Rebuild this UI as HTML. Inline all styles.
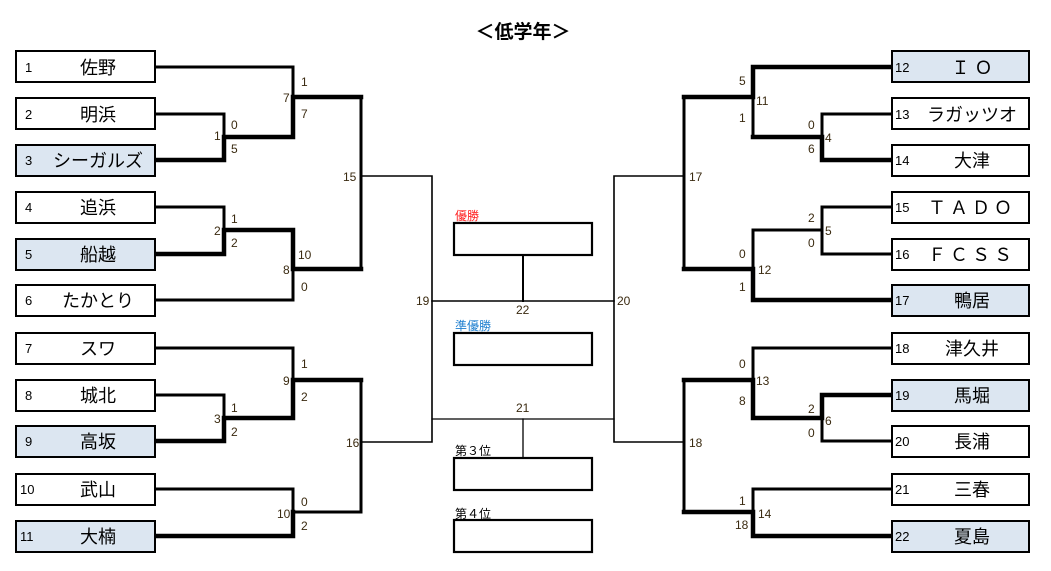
<!DOCTYPE html>
<html><head><meta charset="utf-8"><style>
html,body{margin:0;padding:0;background:#fff;}
svg{display:block;}
text{font-family:"Liberation Sans","Noto Sans CJK JP",sans-serif;}
.n{font-size:13px;fill:#000;}
.nm{font-size:18px;fill:#000;text-anchor:middle;}
.s{font-size:12px;fill:#3a2a10;}
</style></head><body>
<svg width="1051" height="571" viewBox="0 0 1051 571" xmlns="http://www.w3.org/2000/svg">
<text x="523" y="38" text-anchor="middle" style="font-size:19px;font-weight:bold">＜低学年＞</text>

<g stroke="#000" fill="none" stroke-linecap="square">
<path d="M155 67H293V137" stroke-width="3"/>
<path d="M155 114H224V137" stroke-width="3"/>
<path d="M155 160H224V137H293V97H361" stroke-width="4.5"/>
<path d="M155 207H224V230" stroke-width="3"/>
<path d="M155 254H224V230H293V269H361" stroke-width="4.5"/>
<path d="M155 300H293V269" stroke-width="3"/>
<path d="M361 97V269" stroke-width="3"/>
<path d="M155 348H293V380" stroke-width="3"/>
<path d="M155 395H224V418" stroke-width="3"/>
<path d="M155 441H224V418H293V380H361" stroke-width="4.5"/>
<path d="M155 489H293V512" stroke-width="3"/>
<path d="M155 536H293V512" stroke-width="4.5"/>
<path d="M293 512H361V380" stroke-width="3"/>
<path d="M892 67H753V97H684" stroke-width="4.5"/>
<path d="M753 97V137" stroke-width="3"/>
<path d="M892 114H822V137" stroke-width="3"/>
<path d="M892 160H822V137H753" stroke-width="4.5"/>
<path d="M892 207H822V230H753V269" stroke-width="3"/>
<path d="M892 254H822V230" stroke-width="3"/>
<path d="M892 300H753V269H684" stroke-width="4.5"/>
<path d="M684 97V269" stroke-width="3"/>
<path d="M892 348H753V380" stroke-width="3"/>
<path d="M892 395H822V418H753V380H684" stroke-width="4.5"/>
<path d="M892 441H822V418" stroke-width="3"/>
<path d="M892 489H753V512" stroke-width="3"/>
<path d="M892 536H753V512H684" stroke-width="4.5"/>
<path d="M684 380V512" stroke-width="3"/>
<path d="M361 176H432V442H361" stroke-width="1.6"/>
<path d="M684 176H614V442H684" stroke-width="1.6"/>
<path d="M432 301H614" stroke-width="1.6"/>
<path d="M432 419H614" stroke-width="1.3"/>
<path d="M523 255V301" stroke-width="2"/>
<path d="M523 419V458" stroke-width="1.3"/>
<rect x="454" y="223" width="138" height="32" stroke-width="2.2" fill="#fff"/>
<rect x="454" y="333" width="138" height="32" stroke-width="2.2" fill="#fff"/>
<rect x="454" y="458" width="138" height="32" stroke-width="2.2" fill="#fff"/>
<rect x="454" y="520" width="138" height="32" stroke-width="2.2" fill="#fff"/>
</g>

<text x="455" y="220" style="font-size:12px;fill:#ff2020">優勝</text>
<text x="455" y="330" style="font-size:12px;fill:#2080d0">準優勝</text>
<text x="455" y="455" style="font-size:12px;fill:#000">第３位</text>
<text x="455" y="518" style="font-size:12px;fill:#000">第４位</text>

<g stroke="#000" stroke-width="2">
<rect x="16" y="51" width="139" height="31" fill="#fff"/>
<rect x="16" y="98" width="139" height="31" fill="#fff"/>
<rect x="16" y="145" width="139" height="31" fill="#dce6f1"/>
<rect x="16" y="192" width="139" height="31" fill="#fff"/>
<rect x="16" y="239" width="139" height="31" fill="#dce6f1"/>
<rect x="16" y="285" width="139" height="31" fill="#fff"/>
<rect x="16" y="333" width="139" height="31" fill="#fff"/>
<rect x="16" y="380" width="139" height="31" fill="#fff"/>
<rect x="16" y="426" width="139" height="31" fill="#dce6f1"/>
<rect x="16" y="474" width="139" height="31" fill="#fff"/>
<rect x="16" y="521" width="139" height="31" fill="#dce6f1"/>
<rect x="892" y="51" width="137" height="31" fill="#dce6f1"/>
<rect x="892" y="98" width="137" height="31" fill="#fff"/>
<rect x="892" y="145" width="137" height="31" fill="#fff"/>
<rect x="892" y="192" width="137" height="31" fill="#fff"/>
<rect x="892" y="239" width="137" height="31" fill="#fff"/>
<rect x="892" y="285" width="137" height="31" fill="#dce6f1"/>
<rect x="892" y="333" width="137" height="31" fill="#fff"/>
<rect x="892" y="380" width="137" height="31" fill="#dce6f1"/>
<rect x="892" y="426" width="137" height="31" fill="#fff"/>
<rect x="892" y="474" width="137" height="31" fill="#fff"/>
<rect x="892" y="521" width="137" height="31" fill="#dce6f1"/>
</g>

<g class="n">
<text x="25" y="72">1</text><text x="25" y="119">2</text><text x="25" y="165">3</text>
<text x="25" y="212">4</text><text x="25" y="259">5</text><text x="25" y="305">6</text>
<text x="25" y="353">7</text><text x="25" y="400">8</text><text x="25" y="446">9</text>
<text x="20" y="494">10</text><text x="20" y="541">11</text>
<text x="895" y="72">12</text><text x="895" y="119">13</text><text x="895" y="165">14</text>
<text x="895" y="212">15</text><text x="895" y="259">16</text><text x="895" y="305">17</text>
<text x="895" y="353">18</text><text x="895" y="400">19</text><text x="895" y="446">20</text>
<text x="895" y="494">21</text><text x="895" y="541">22</text>
</g>
<g class="nm">
<text x="98" y="74">佐野</text><text x="98" y="121">明浜</text><text x="98" y="167">シーガルズ</text>
<text x="98" y="214">追浜</text><text x="98" y="261">船越</text><text x="98" y="307">たかとり</text>
<text x="98" y="355">スワ</text><text x="98" y="402">城北</text><text x="98" y="448">高坂</text>
<text x="98" y="496">武山</text><text x="98" y="543">大楠</text>
<text x="972" y="74">Ｉ Ｏ</text><text x="972" y="121">ラガッツオ</text><text x="972" y="167">大津</text>
<text x="972" y="214" style="letter-spacing:4px">ＴＡＤＯ</text><text x="972" y="261" style="letter-spacing:4px">ＦＣＳＳ</text><text x="972" y="307">鴨居</text>
<text x="972" y="355">津久井</text><text x="972" y="402">馬堀</text><text x="972" y="448">長浦</text>
<text x="972" y="496">三春</text><text x="972" y="543">夏島</text>
</g>

<g class="s">
<text x="301" y="86">1</text><text x="283" y="102">7</text><text x="301" y="118">7</text>
<text x="231" y="129">0</text><text x="214" y="140">1</text><text x="231" y="153">5</text>
<text x="231" y="223">1</text><text x="214" y="235">2</text><text x="231" y="247">2</text>
<text x="298" y="259">10</text><text x="283" y="274">8</text><text x="301" y="291">0</text>
<text x="343" y="181">15</text>
<text x="301" y="368">1</text><text x="283" y="385">9</text><text x="301" y="401">2</text>
<text x="231" y="412">1</text><text x="214" y="423">3</text><text x="231" y="436">2</text>
<text x="301" y="506">0</text><text x="277" y="518">10</text><text x="301" y="530">2</text>
<text x="346" y="447">16</text>
<text x="416" y="305">19</text><text x="617" y="305">20</text>
<text x="516" y="314">22</text><text x="516" y="412">21</text>
<text x="739" y="85">5</text><text x="756" y="105">11</text><text x="739" y="122">1</text>
<text x="808" y="129">0</text><text x="825" y="142">4</text><text x="808" y="153">6</text>
<text x="689" y="181">17</text>
<text x="808" y="222">2</text><text x="825" y="235">5</text><text x="808" y="247">0</text>
<text x="739" y="258">0</text><text x="758" y="274">12</text><text x="739" y="291">1</text>
<text x="739" y="368">0</text><text x="756" y="385">13</text><text x="739" y="405">8</text>
<text x="808" y="413">2</text><text x="825" y="425">6</text><text x="808" y="437">0</text>
<text x="689" y="447">18</text>
<text x="739" y="505">1</text><text x="758" y="518">14</text><text x="735" y="529">18</text>
</g>
</svg>
</body></html>
